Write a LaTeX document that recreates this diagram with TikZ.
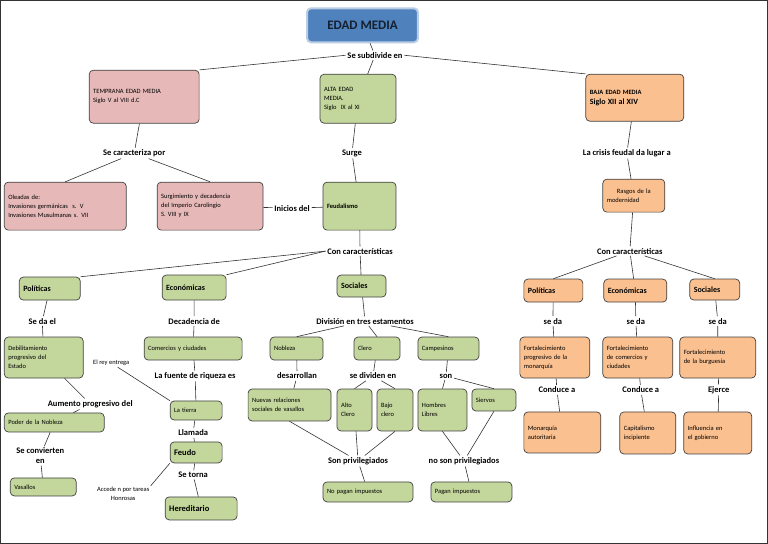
\documentclass[tikz,border=0pt]{standalone}
\usepackage{fontspec}
\setmainfont{Carlito}
\begin{document}
\begin{tikzpicture}[x=1pt,y=-1pt,
 box/.style={draw=black!75,rounded corners=4pt,line width=0.7pt,font=\fontsize{6.5}{9}\selectfont,inner sep=3pt},
 pk/.style={box,fill=pink0},
 gr/.style={box,fill=green0},
 orr/.style={box,fill=orange0},
 lab/.style={font=\bfseries\fontsize{8.5}{10}\selectfont,inner sep=1.5pt},
 sl/.style={font=\fontsize{6.5}{9}\selectfont,inner sep=1pt,align=center},
 every path/.style={line width=0.6pt,draw=black!80}]
\definecolor{pink0}{HTML}{E6B9B8}
\definecolor{green0}{HTML}{C3D69B}
\definecolor{orange0}{HTML}{FAC090}
\definecolor{blue0}{HTML}{4F81BD}
\newcommand\bx[7]{\node[#6,minimum width=#4pt,minimum height=#5pt,text width={#4pt-8pt},align=left] (#1) at (#2,#3) {#7};}
\useasboundingbox (0,0) rectangle (768,543);
% boxes
\node[draw=blue0!40!white,line width=2pt,fill=blue0,rounded corners=4pt,minimum width=111pt,minimum height=34pt,font=\bfseries\fontsize{13}{15}\selectfont,text=blue0!25!black] (em) at (362.5,25) {EDAD MEDIA};
\bx{temp}{144}{96.5}{110}{53}{pk}{TEMPRANA EDAD MEDIA\\Siglo V al VIII d.C\\[6pt]}
\bx{alta}{358}{98.5}{76}{49}{gr}{ALTA EDAD\\MEDIA.\\Siglo \ IX al XI}
\bx{baja}{635}{97.5}{98}{47}{orr}{\bfseries BAJA EDAD MEDIA\\\fontsize{8}{10}\selectfont Siglo XII al XIV\\[6pt]}
\bx{ole}{65}{206}{122}{48}{pk}{Oleadas de:\\ Invasiones germánicas \ s. V\\Invasiones Musulmanas s. VII}
\bx{surg}{210}{206}{106}{48}{pk}{Surgimiento y decadencia\\del Imperio Carolingio\\S. VIII y IX}
\bx{feud}{359.5}{206}{73}{48}{gr}{\bfseries Feudalismo\\[16pt]}
\bx{ras}{634}{195.5}{62}{33}{orr}{\centering Rasgos de la\\modernidad}
\bx{polL}{49.5}{288.5}{61}{23}{gr}{\bfseries\fontsize{8}{10}\selectfont Políticas}
\bx{ecoL}{194}{287.5}{64}{25}{gr}{\centering\bfseries\fontsize{8}{10}\selectfont Económicas}
\bx{socL}{361.5}{286}{49}{22}{gr}{\centering\bfseries\fontsize{8}{10}\selectfont Sociales}
\bx{deb}{43.5}{357.5}{79}{41}{gr}{Debilitamiento\\progresivo del\\Estado}
\bx{pod}{54}{422.5}{100}{19}{gr}{Poder de la Nobleza}
\bx{vas}{43}{487}{66}{18}{gr}{Vasallos}
\bx{com}{193}{348.5}{98}{23}{gr}{Comercios y ciudades}
\bx{tie}{196}{410.5}{52}{19}{gr}{La tierra}
\bx{feu}{196}{452.5}{52}{21}{gr}{\bfseries\fontsize{8.5}{10}\selectfont Feudo}
\bx{her}{201}{508.5}{72}{23}{gr}{\centering\bfseries\fontsize{8.5}{10}\selectfont Hereditario}
\bx{nob}{296.5}{348.5}{53}{23}{gr}{Nobleza}
\bx{cle}{377}{348.5}{46}{23}{gr}{Clero}
\bx{cam}{448.5}{348.5}{61}{23}{gr}{Campesinos}
\bx{nue}{289.5}{405}{83}{32}{gr}{Nuevas relaciones\\sociales de vasallos}
\bx{alt}{354.5}{410}{35}{42}{gr}{Alto\\Clero\\[6pt]}
\bx{baj}{395}{410}{36}{42}{gr}{Bajo\\clero\\[6pt]}
\bx{hom}{442.5}{410}{49}{42}{gr}{Hombres\\Libres\\[6pt]}
\bx{sie}{494}{400}{44}{22}{gr}{Siervos}
\bx{nop}{368}{492}{90}{20}{gr}{\centering No pagan impuestos}
\bx{pag}{471.5}{492}{81}{20}{gr}{\centering Pagan impuestos}
\bx{polR}{553.5}{290.5}{59}{23}{orr}{\bfseries\fontsize{8}{10}\selectfont Políticas}
\bx{ecoR}{635.5}{290.5}{63}{23}{orr}{\centering\bfseries\fontsize{8}{10}\selectfont Económicas}
\bx{socR}{715}{289.5}{50}{21}{orr}{\centering\bfseries\fontsize{8}{10}\selectfont Sociales}
\bx{f1}{555}{357.5}{70}{41}{orr}{Fortalecimiento\\progresivo de la\\monarquía}
\bx{f2}{638}{357.5}{70}{41}{orr}{Fortalecimiento\\de comercios y\\ciudades}
\bx{f3}{718}{357.5}{76}{41}{orr}{Fortalecimiento\\de la burguesía\\[6pt]}
\bx{mon}{562.5}{432.5}{77}{41}{orr}{Monarquía\\autoritaria\\[6pt]}
\bx{cap}{648}{433}{56}{42}{orr}{Capitalismo\\incipiente\\[6pt]}
\bx{inf}{718}{433}{68}{42}{orr}{Influencia en\\el gobierno\\[6pt]}
% labels
\node[lab] (l1) at (375,55) {Se subdivide en};
\node[lab] (l2) at (134,153) {Se caracteriza por};
\node[lab] (l3) at (352,153) {Surge};
\node[lab] (l4) at (627,153) {La crisis feudal da lugar a};
\node[lab] (l5) at (292,208) {Inicios del};
\node[lab] (l6) at (360,251) {Con características};
\node[lab] (l7) at (630,251) {Con características};
\node[lab] (l8) at (42,321) {Se da el};
\node[lab] (l9) at (90,404) {Aumento progresivo del};
\node[lab,align=center] (l10) at (40,456) {Se convierten\\en};
\node[lab] (l11) at (194,321) {Decadencia de};
\node[lab] (l12) at (195,376) {La fuente de riqueza es};
\node[lab] (l13) at (193,433) {Llamada};
\node[lab] (l14) at (193,475) {Se torna};
\node[sl] (l15) at (111,363) {El rey entrega};
\node[sl] (l16) at (123,494) {Accede n por tareas\\Honrosas};
\node[lab] (l17) at (365,321) {División en tres estamentos};
\node[lab] (l18) at (297,376) {desarrollan};
\node[lab] (l19) at (373,376) {se dividen en};
\node[lab] (l20) at (446,376) {son};
\node[lab] (l21) at (358,461) {Son privilegiados};
\node[lab] (l22) at (464,461) {no son privilegiados};
\node[lab] (s1) at (553,321) {se da};
\node[lab] (s2) at (636,321) {se da};
\node[lab] (s3) at (718,321) {se da};
\node[lab] (c1) at (557,390) {Conduce a};
\node[lab] (c2) at (641,390) {Conduce a};
\node[lab] (c3) at (719,390) {Ejerce};
% connectors
\draw (em) -- (l1);
\draw (l1.west) -- (temp.north east);
\draw (l1) -- (alta);
\draw (l1.east) -- (baja.north west);
\draw (temp) -- (l2);
\draw (l2) -- (ole.north);
\draw (l2) -- (surg.north);
\draw (alta) -- (l3) -- (feud);
\draw (baja) -- (l4) -- (ras);
\draw (surg) -- (l5) -- (feud);
\draw (feud) -- (l6);
\draw (l6.west) -- (polL.north east);
\draw (l6.west) -- (ecoL.north east);
\draw (l6) -- (socL);
\draw (polL) -- (l8) -- (deb);
\draw (deb) -- (l9);
\draw (l9) -- (pod);
\draw (pod) -- (l10) -- (vas);
\draw (l15) -- (tie.north west);
\draw (l16.north east) -- (feu.south west);
\draw (ecoL) -- (l11) -- (com);
\draw (com) -- (l12) -- (tie);
\draw (tie) -- (l13) -- (feu);
\draw (feu) -- (l14) -- (her);
\draw (socL) -- (l17);
\draw (l17) -- (nob.north);
\draw (l17) -- (cle.north);
\draw (l17) -- (cam.north);
\draw (nob) -- (l18) -- (nue);
\draw (cle) -- (l19);
\draw (l19) -- (alt.north);
\draw (l19) -- (baj.north);
\draw (cam) -- (l20);
\draw (l20) -- (hom.north);
\draw (l20) -- (sie.north);
\draw (nue.south) -- (l21);
\draw (alt) -- (l21);
\draw (baj.south) -- (l21);
\draw (l21) -- (nop);
\draw (hom.south) -- (l22);
\draw (sie.south) -- (l22);
\draw (l22) -- (pag);
\draw (ras) -- (l7);
\draw (l7) -- (polR.north);
\draw (l7) -- (ecoR);
\draw (l7) -- (socR.north);
\draw (polR) -- (s1) -- (f1);
\draw (ecoR) -- (s2) -- (f2);
\draw (socR) -- (s3) -- (f3);
\draw (f1) -- (c1) -- (mon);
\draw (f2) -- (c2) -- (cap);
\draw (f3) -- (c3) -- (inf);
\end{tikzpicture}
\end{document}
